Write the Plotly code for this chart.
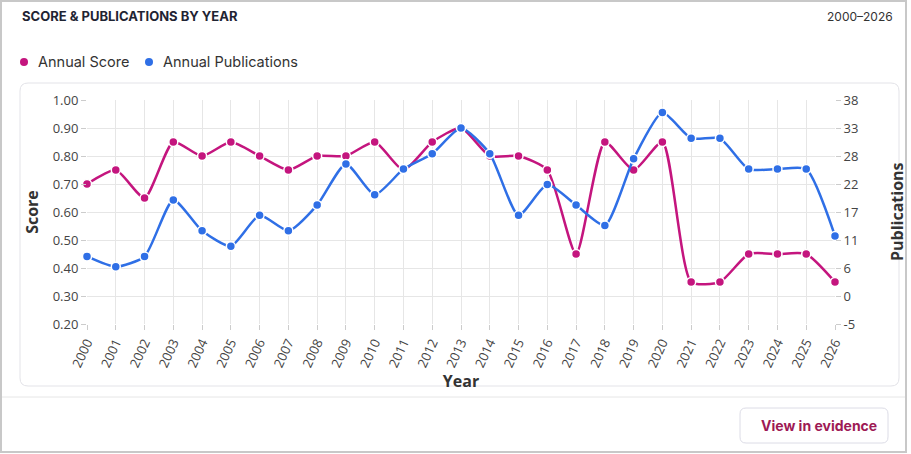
import plotly.graph_objects as go

years = list(range(2000, 2027))
score = [0.70, 0.75, 0.65, 0.85, 0.80, 0.85, 0.80, 0.75, 0.80, 0.80, 0.85, 0.75, 0.85, 0.90,
         0.80, 0.80, 0.75, 0.45, 0.85, 0.75, 0.85, 0.35, 0.35, 0.45, 0.45, 0.45, 0.35]
pubs = [8, 6, 8, 19, 13, 10, 16, 13, 18, 26, 20, 25, 28, 33,
        28, 16, 22, 18, 14, 27, 36, 31, 31, 25, 25, 25, 12]
right_ticks = ["-5", "0", "6", "11", "17", "22", "28", "33", "38"]
left_ticks = [0.2, 0.3, 0.4, 0.5, 0.6, 0.7, 0.8, 0.9, 1.0]

PINK = "#C4157E"
BLUE = "#2F6FE6"
W, H = 911, 454
L, R, T, B = 87, 835, 100, 324

def px(x):
    return (x - L) / (R - L)

def py(y):
    return (B - y) / (B - T)

def rrect(x0, y0, x1, y1, r):
    return (f"M {px(x0+r)} {py(y0)} L {px(x1-r)} {py(y0)} Q {px(x1)} {py(y0)} {px(x1)} {py(y0+r)} "
            f"L {px(x1)} {py(y1-r)} Q {px(x1)} {py(y1)} {px(x1-r)} {py(y1)} "
            f"L {px(x0+r)} {py(y1)} Q {px(x0)} {py(y1)} {px(x0)} {py(y1-r)} "
            f"L {px(x0)} {py(y0+r)} Q {px(x0)} {py(y0)} {px(x0+r)} {py(y0)} Z")

lo, hi = -5.15, 38.45
step = (hi - lo) / 8
rvals = [lo + k * step for k in range(9)]

SM = 0.6
fig = go.Figure()
fig.add_trace(go.Scatter(
    x=years, y=score, mode="lines+markers", name="Annual Score",
    line=dict(color=PINK, width=2.5, shape="spline", smoothing=SM),
    marker=dict(color=PINK, size=9, line=dict(color="white", width=1.5)),
    cliponaxis=False, showlegend=False))
fig.add_trace(go.Scatter(
    x=years, y=pubs, mode="lines+markers", name="Annual Publications", yaxis="y2",
    line=dict(color=BLUE, width=2.5, shape="spline", smoothing=SM),
    marker=dict(color=BLUE, size=9, line=dict(color="white", width=1.5)),
    cliponaxis=False, showlegend=False))

shapes = []
shapes.append(dict(type="rect", xref="paper", yref="paper", x0=px(1), y0=py(1), x1=px(906), y1=py(452),
                   line=dict(color="#c8c8c8", width=2), fillcolor="rgba(0,0,0,0)", layer="below"))
shapes.append(dict(type="path", xref="paper", yref="paper", path=rrect(20, 83, 899, 386, 8),
                   line=dict(color="#e3e3e8", width=1), layer="below"))
shapes.append(dict(type="line", xref="paper", yref="paper", x0=px(2), y0=py(397), x1=px(905), y1=py(397),
                   line=dict(color="#e6e6e6", width=1)))
shapes.append(dict(type="path", xref="paper", yref="paper", path=rrect(740, 408, 888, 443, 6),
                   line=dict(color="#dcdce6", width=1), fillcolor="white"))
for cx, col in [(24, PINK), (149, BLUE)]:
    shapes.append(dict(type="circle", xref="paper", yref="paper",
                       x0=px(cx - 4), x1=px(cx + 4), y0=py(62 - 4), y1=py(62 + 4),
                       fillcolor=col, line=dict(color=col, width=0)))

TF = "Inter, 'Noto Sans', sans-serif"
AF = "'Open Sans', sans-serif"
annotations = [
    dict(text="<b>SCORE &amp; PUBLICATIONS BY YEAR</b>", x=px(20), y=py(16), xref="paper", yref="paper",
         xanchor="left", yanchor="middle", showarrow=False, font=dict(family=TF, size=13, color="#1f2433")),
    dict(text="2000–2026", x=px(895), y=py(16), xref="paper", yref="paper",
         xanchor="right", yanchor="middle", showarrow=False, font=dict(family=TF, size=12, color="#333")),
    dict(text="Annual Score", x=px(36), y=py(62), xref="paper", yref="paper",
         xanchor="left", yanchor="middle", showarrow=False, font=dict(family=TF, size=14.5, color="#333")),
    dict(text="Annual Publications", x=px(161), y=py(62), xref="paper", yref="paper",
         xanchor="left", yanchor="middle", showarrow=False, font=dict(family=TF, size=14.5, color="#333")),
    dict(text="<b>View in evidence</b>", x=px(819), y=py(425.5), xref="paper", yref="paper",
         xanchor="center", yanchor="middle", showarrow=False, font=dict(family=TF, size=14, color="#9E1A55")),
    dict(text="<b>Publications</b>", x=px(897), y=py(212), xref="paper", yref="paper", textangle=-90,
         xanchor="center", yanchor="middle", showarrow=False, font=dict(family=AF, size=16, color="#333")),
]

fig.update_layout(
    width=W, height=H, autosize=False,
    margin=dict(l=L, r=W - R, t=T, b=H - B),
    paper_bgcolor="white", plot_bgcolor="white",
    showlegend=False,
    shapes=shapes, annotations=annotations,
    xaxis=dict(range=[2000, 2026], tickvals=years, ticktext=[str(y) for y in years],
               tickangle=-65, showgrid=True, gridcolor="#e6e6e6", gridwidth=1,
               ticks="outside", ticklen=5, tickcolor="#cccccc", zeroline=False, showline=False,
               tickfont=dict(family=AF, size=13, color="#444"),
               title=dict(text="<b>Year</b>", font=dict(family=AF, size=16, color="#333"), standoff=0)),
    yaxis=dict(range=[0.2, 1.0], tickvals=left_ticks, tickformat=".2f",
               showgrid=True, gridcolor="#e6e6e6", gridwidth=1,
               ticks="outside", ticklen=5, tickcolor="#cccccc", zeroline=False, showline=False,
               tickfont=dict(family=AF, size=13, color="#444"),
               title=dict(text="<b>Score</b>", font=dict(family=AF, size=16, color="#333"), standoff=10)),
    yaxis2=dict(range=[lo, hi], overlaying="y", side="right", tickvals=rvals, ticktext=right_ticks,
                showgrid=False, ticks="outside", ticklen=5, tickcolor="#cccccc", zeroline=False, showline=False,
                tickfont=dict(family=AF, size=13, color="#444")),
)

fig.write_html("out.html")
